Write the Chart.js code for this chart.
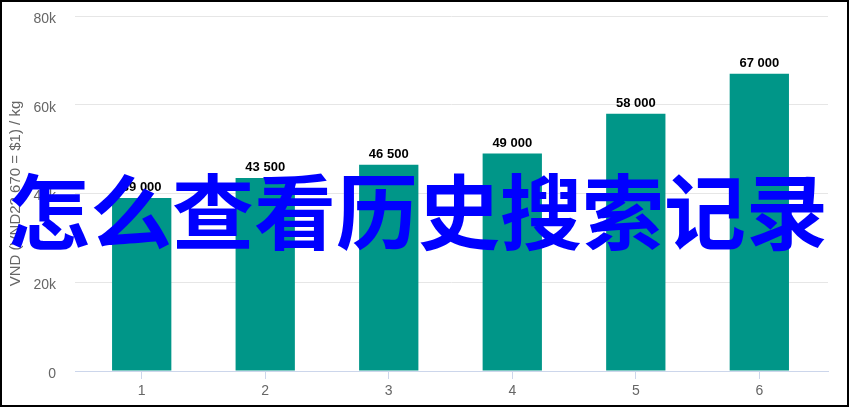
<!DOCTYPE html>
<html>
<head>
<meta charset="utf-8">
<script src="https://cdn.jsdelivr.net/npm/chart.js@4/dist/chart.umd.min.js"></script>
<style>
  html, body { margin: 0; padding: 0; background: #fff; }
  #wrap { position: relative; width: 849px; height: 407px; overflow: hidden; }
  #c { position: absolute; left: 0; top: 0; }
  #frame { position: absolute; left: 0; top: 0; width: 849px; height: 407px; box-sizing: border-box; border: 2px solid #000; pointer-events: none; }
  #overlay { position: absolute; left: 8px; top: 167px; white-space: nowrap; font-family: "Noto Sans CJK SC", sans-serif; font-weight: 700; font-size: 82px; line-height: 82px; color: #0000ff; pointer-events: none; }
</style>
</head>
<body>
<div id="wrap">
  <canvas id="c" width="849" height="407"></canvas>
  <div id="overlay">怎么查看历史搜索记录</div>
  <div id="frame"></div>
</div>
<script>
const categories = ['1', '2', '3', '4', '5', '6'];
const prices = [39000, 43500, 46500, 49000, 58000, 67000];
const yTicks = [0, 20000, 40000, 60000, 80000];
const yTitle = 'VND (VND22 670 = $1) / kg';

const points = categories.map((c, i) => ({ x: i + 1, y: prices[i] }));

const fmt = v => String(v).replace(/\B(?=(\d{3})+(?!\d))/g, ' ');

const labelPlugin = {
  id: 'barLabels',
  afterDatasetsDraw(chart) {
    const ctx = chart.ctx;
    const meta = chart.getDatasetMeta(0);
    ctx.save();
    ctx.font = 'bold 13px "Liberation Sans", Arial, sans-serif';
    ctx.fillStyle = '#000';
    ctx.textAlign = 'center';
    ctx.textBaseline = 'alphabetic';
    meta.data.forEach((bar, i) => {
      ctx.fillText(fmt(prices[i]), bar.x, bar.y - 7);
    });
    ctx.restore();
  }
};

new Chart(document.getElementById('c'), {
  type: 'bar',
  data: {
    datasets: [{
      data: points,
      backgroundColor: '#009688',
      borderWidth: 0,
      barPercentage: 0.48,
      categoryPercentage: 1
    }]
  },
  options: {
    responsive: false,
    animation: false,
    devicePixelRatio: 1,
    layout: { padding: { left: 0, right: 21, top: 16, bottom: 0 } },
    plugins: { legend: { display: false }, tooltip: { enabled: false } },
    scales: {
      x: {
        type: 'linear',
        offset: false,
        min: 0.46,
        max: 6.556,
        afterBuildTicks(scale) {
          scale.ticks = categories.map((c, i) => ({ value: i + 1 }));
        },
        afterFit(scale) {
          scale.height = 36;
          scale.paddingTop = 0; scale.paddingBottom = 0;
          scale.paddingLeft = 0; scale.paddingRight = 0;
        },
        ticks: {
          callback: v => categories[v - 1],
          color: '#666666',
          font: { family: '"Liberation Sans", Arial, sans-serif', size: 14 },
          padding: 4,
          maxRotation: 0,
          autoSkip: false
        },
        grid: { offset: false, drawOnChartArea: false, drawTicks: true, tickLength: 8, color: '#ccd6eb', lineWidth: 1 },
        border: { display: true, color: '#ccd6eb', width: 1 }
      },
      y: {
        min: 0,
        max: 80000,
        afterBuildTicks(scale) {
          scale.ticks = yTicks.map(v => ({ value: v }));
        },
        afterFit(scale) {
          scale.width = 75;
          scale.paddingTop = 0; scale.paddingBottom = 0;
          scale.paddingLeft = 0; scale.paddingRight = 0;
        },
        ticks: {
          callback: v => v === 0 ? '0' : (v / 1000) + 'k',
          color: '#666666',
          font: { family: '"Liberation Sans", Arial, sans-serif', size: 14 },
          padding: 19,
          labelOffset: 3
        },
        grid: {
          drawTicks: false,
          color: ctx => ctx.tick && ctx.tick.value === 0 ? 'rgba(0,0,0,0)' : '#e6e6e6',
          lineWidth: 1
        },
        border: { display: false },
        title: {
          display: true,
          text: yTitle,
          color: '#666666',
          font: { family: '"Liberation Sans", Arial, sans-serif', size: 15 },
          padding: { top: 7, bottom: 0 }
        }
      }
    }
  },
  plugins: [labelPlugin]
});
</script>
</body>
</html>
